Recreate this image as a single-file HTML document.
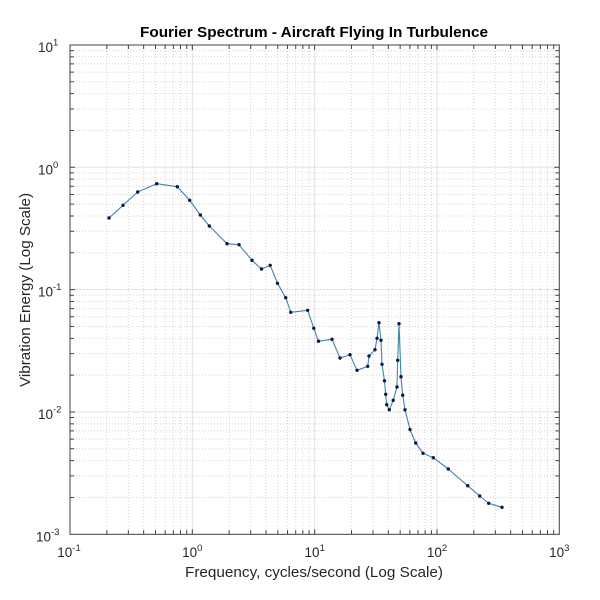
<!DOCTYPE html>
<html>
<head>
<meta charset="utf-8">
<style>
html,body{margin:0;padding:0;background:#fff;}
svg{display:block;}
text{font-family:"Liberation Sans",Arial,Helvetica,sans-serif;fill:#262626;}
</style>
</head>
<body>
<svg width="600" height="600" viewBox="0 0 600 600" xmlns="http://www.w3.org/2000/svg">
<rect x="0" y="0" width="600" height="600" fill="#fff"/>
<!-- minor grid -->
<g stroke="#d4d4d4" stroke-width="1" stroke-dasharray="1,2" fill="none">
<path d="M106.83 45V534.3M128.37 45V534.3M143.65 45V534.3M155.5 45V534.3M165.19 45V534.3M173.38 45V534.3M180.48 45V534.3M186.74 45V534.3
M229.16 45V534.3M250.7 45V534.3M265.98 45V534.3M277.83 45V534.3M287.52 45V534.3M295.71 45V534.3M302.81 45V534.3M309.07 45V534.3
M351.49 45V534.3M373.03 45V534.3M388.31 45V534.3M400.16 45V534.3M409.85 45V534.3M418.04 45V534.3M425.14 45V534.3M431.4 45V534.3
M473.82 45V534.3M495.36 45V534.3M510.64 45V534.3M522.49 45V534.3M532.18 45V534.3M540.37 45V534.3M547.47 45V534.3M553.73 45V534.3"/>
<path d="M70 497.47H559.3M70 475.93H559.3M70 460.65H559.3M70 448.8H559.3M70 439.11H559.3M70 430.92H559.3M70 423.82H559.3M70 417.56H559.3
M70 375.14H559.3M70 353.6H559.3M70 338.32H559.3M70 326.47H559.3M70 316.78H559.3M70 308.59H559.3M70 301.49H559.3M70 295.23H559.3
M70 252.81H559.3M70 231.27H559.3M70 215.99H559.3M70 204.14H559.3M70 194.45H559.3M70 186.26H559.3M70 179.16H559.3M70 172.9H559.3
M70 130.48H559.3M70 108.94H559.3M70 93.66H559.3M70 81.81H559.3M70 72.12H559.3M70 63.93H559.3M70 56.83H559.3M70 50.57H559.3"/>
</g>
<!-- major grid -->
<g stroke="#e2e2e2" stroke-width="1" fill="none">
<path d="M192.33 45V534.3M314.66 45V534.3M436.99 45V534.3M70 411.97H559.3M70 289.64H559.3M70 167.31H559.3"/>
</g>
<!-- ticks -->
<g stroke="#404040" stroke-width="1" fill="none">
<path d="M106.83 534.3v-4M128.37 534.3v-4M143.65 534.3v-4M155.5 534.3v-4M165.19 534.3v-4M173.38 534.3v-4M180.48 534.3v-4M186.74 534.3v-4M192.33 534.3v-5
M229.16 534.3v-4M250.7 534.3v-4M265.98 534.3v-4M277.83 534.3v-4M287.52 534.3v-4M295.71 534.3v-4M302.81 534.3v-4M309.07 534.3v-4M314.66 534.3v-5
M351.49 534.3v-4M373.03 534.3v-4M388.31 534.3v-4M400.16 534.3v-4M409.85 534.3v-4M418.04 534.3v-4M425.14 534.3v-4M431.4 534.3v-4M436.99 534.3v-5
M473.82 534.3v-4M495.36 534.3v-4M510.64 534.3v-4M522.49 534.3v-4M532.18 534.3v-4M540.37 534.3v-4M547.47 534.3v-4M553.73 534.3v-4"/>
<path d="M106.83 45v4M128.37 45v4M143.65 45v4M155.5 45v4M165.19 45v4M173.38 45v4M180.48 45v4M186.74 45v4M192.33 45v5
M229.16 45v4M250.7 45v4M265.98 45v4M277.83 45v4M287.52 45v4M295.71 45v4M302.81 45v4M309.07 45v4M314.66 45v5
M351.49 45v4M373.03 45v4M388.31 45v4M400.16 45v4M409.85 45v4M418.04 45v4M425.14 45v4M431.4 45v4M436.99 45v5
M473.82 45v4M495.36 45v4M510.64 45v4M522.49 45v4M532.18 45v4M540.37 45v4M547.47 45v4M553.73 45v4"/>
<path d="M70 497.47h4M70 475.93h4M70 460.65h4M70 448.8h4M70 439.11h4M70 430.92h4M70 423.82h4M70 417.56h4M70 411.97h5
M70 375.14h4M70 353.6h4M70 338.32h4M70 326.47h4M70 316.78h4M70 308.59h4M70 301.49h4M70 295.23h4M70 289.64h5
M70 252.81h4M70 231.27h4M70 215.99h4M70 204.14h4M70 194.45h4M70 186.26h4M70 179.16h4M70 172.9h4M70 167.31h5
M70 130.48h4M70 108.94h4M70 93.66h4M70 81.81h4M70 72.12h4M70 63.93h4M70 56.83h4M70 50.57h4"/>
<path d="M559.3 497.47h-4M559.3 475.93h-4M559.3 460.65h-4M559.3 448.8h-4M559.3 439.11h-4M559.3 430.92h-4M559.3 423.82h-4M559.3 417.56h-4M559.3 411.97h-5
M559.3 375.14h-4M559.3 353.6h-4M559.3 338.32h-4M559.3 326.47h-4M559.3 316.78h-4M559.3 308.59h-4M559.3 301.49h-4M559.3 295.23h-4M559.3 289.64h-5
M559.3 252.81h-4M559.3 231.27h-4M559.3 215.99h-4M559.3 204.14h-4M559.3 194.45h-4M559.3 186.26h-4M559.3 179.16h-4M559.3 172.9h-4M559.3 167.31h-5
M559.3 130.48h-4M559.3 108.94h-4M559.3 93.66h-4M559.3 81.81h-4M559.3 72.12h-4M559.3 63.93h-4M559.3 56.83h-4M559.3 50.57h-4"/>
</g>
<!-- axes box -->
<rect x="70" y="45" width="489.3" height="489.3" fill="none" stroke="#404040" stroke-width="1"/>
<!-- data line -->
<polyline fill="none" stroke="#3f86a8" stroke-width="1.1" stroke-linejoin="round" points="109,218 123,205.3 137.7,192 156.7,183.7 177.3,186.7 189.7,200.3 200.3,215 209.3,226 227,243.7 239,244.7 252,260.3 261.5,269 270.2,265.3 277.5,283.3 285.7,297.7 290.8,312.3 307.7,310.3 313.8,328.3 318.5,341.2 332,339.3 340,358 350,354.7 357,370.3 367.7,366.3 369,356 375,349.7 377,338.3 379,322.7 381,340.3 382,364.3 384.5,380.8 385.7,394.3 386.7,404.7 389.3,409.7 393.2,400.3 397,387 397.7,360.3 399,323.7 401,376.7 402.7,395.2 405,409.8 410,429.5 415.7,443 423,453.3 433.3,457.7 448.3,469 467.7,485.7 479.7,496 488.7,503.3 502,507.3"/>
<!-- markers -->
<g fill="#12164a">
<circle cx="109" cy="218" r="1.7"/><circle cx="123" cy="205.3" r="1.7"/><circle cx="137.7" cy="192" r="1.7"/><circle cx="156.7" cy="183.7" r="1.7"/><circle cx="177.3" cy="186.7" r="1.7"/><circle cx="189.7" cy="200.3" r="1.7"/><circle cx="200.3" cy="215" r="1.7"/><circle cx="209.3" cy="226" r="1.7"/><circle cx="227" cy="243.7" r="1.7"/><circle cx="239" cy="244.7" r="1.7"/><circle cx="252" cy="260.3" r="1.7"/><circle cx="261.5" cy="269" r="1.7"/><circle cx="270.2" cy="265.3" r="1.7"/><circle cx="277.5" cy="283.3" r="1.7"/><circle cx="285.7" cy="297.7" r="1.7"/><circle cx="290.8" cy="312.3" r="1.7"/><circle cx="307.7" cy="310.3" r="1.7"/><circle cx="313.8" cy="328.3" r="1.7"/><circle cx="318.5" cy="341.2" r="1.7"/><circle cx="332" cy="339.3" r="1.7"/><circle cx="340" cy="358" r="1.7"/><circle cx="350" cy="354.7" r="1.7"/><circle cx="357" cy="370.3" r="1.7"/><circle cx="367.7" cy="366.3" r="1.7"/><circle cx="369" cy="356" r="1.7"/><circle cx="375" cy="349.7" r="1.7"/><circle cx="377" cy="338.3" r="1.7"/><circle cx="379" cy="322.7" r="1.7"/><circle cx="381" cy="340.3" r="1.7"/><circle cx="382" cy="364.3" r="1.7"/><circle cx="384.5" cy="380.8" r="1.7"/><circle cx="385.7" cy="394.3" r="1.7"/><circle cx="386.7" cy="404.7" r="1.7"/><circle cx="389.3" cy="409.7" r="1.7"/><circle cx="393.2" cy="400.3" r="1.7"/><circle cx="397" cy="387" r="1.7"/><circle cx="397.7" cy="360.3" r="1.7"/><circle cx="399" cy="323.7" r="1.7"/><circle cx="401" cy="376.7" r="1.7"/><circle cx="402.7" cy="395.2" r="1.7"/><circle cx="405" cy="409.8" r="1.7"/><circle cx="410" cy="429.5" r="1.7"/><circle cx="415.7" cy="443" r="1.7"/><circle cx="423" cy="453.3" r="1.7"/><circle cx="433.3" cy="457.7" r="1.7"/><circle cx="448.3" cy="469" r="1.7"/><circle cx="467.7" cy="485.7" r="1.7"/><circle cx="479.7" cy="496" r="1.7"/><circle cx="488.7" cy="503.3" r="1.7"/><circle cx="502" cy="507.3" r="1.7"/>
</g>
<!-- title -->
<text x="314" y="37" text-anchor="middle" font-size="14.5" font-weight="bold" fill="#000" textLength="348" lengthAdjust="spacingAndGlyphs" style="fill:#000">Fourier Spectrum - Aircraft Flying In Turbulence</text>
<!-- y tick labels -->
<g font-size="13.5">
<text x="53" y="52" text-anchor="end">10</text><text x="53" y="45.5" font-size="9.5">1</text>
<text x="53" y="174.3" text-anchor="end">10</text><text x="53" y="167.8" font-size="9.5">0</text>
<text x="53" y="296.6" text-anchor="end">10</text><text x="53" y="290.1" font-size="9.5">-1</text>
<text x="53" y="419" text-anchor="end">10</text><text x="53" y="412.5" font-size="9.5">-2</text>
<text x="51" y="541.3" text-anchor="end">10</text><text x="51" y="534.8" font-size="9.5">-3</text>
</g>
<!-- x tick labels -->
<g font-size="13.5" text-anchor="middle">
<text x="69" y="557">10<tspan dy="-6" font-size="9.5">-1</tspan></text>
<text x="192.3" y="557">10<tspan dy="-6" font-size="9.5">0</tspan></text>
<text x="314.7" y="557">10<tspan dy="-6" font-size="9.5">1</tspan></text>
<text x="437" y="557">10<tspan dy="-6" font-size="9.5">2</tspan></text>
<text x="559.3" y="557">10<tspan dy="-6" font-size="9.5">3</tspan></text>
</g>
<!-- axis labels -->
<text x="314" y="577" text-anchor="middle" font-size="15" textLength="258" lengthAdjust="spacingAndGlyphs">Frequency, cycles/second (Log Scale)</text>
<text transform="translate(30,290) rotate(-90)" x="0" y="0" text-anchor="middle" font-size="15" textLength="194" lengthAdjust="spacingAndGlyphs">Vibration Energy (Log Scale)</text>
</svg>
</body>
</html>
